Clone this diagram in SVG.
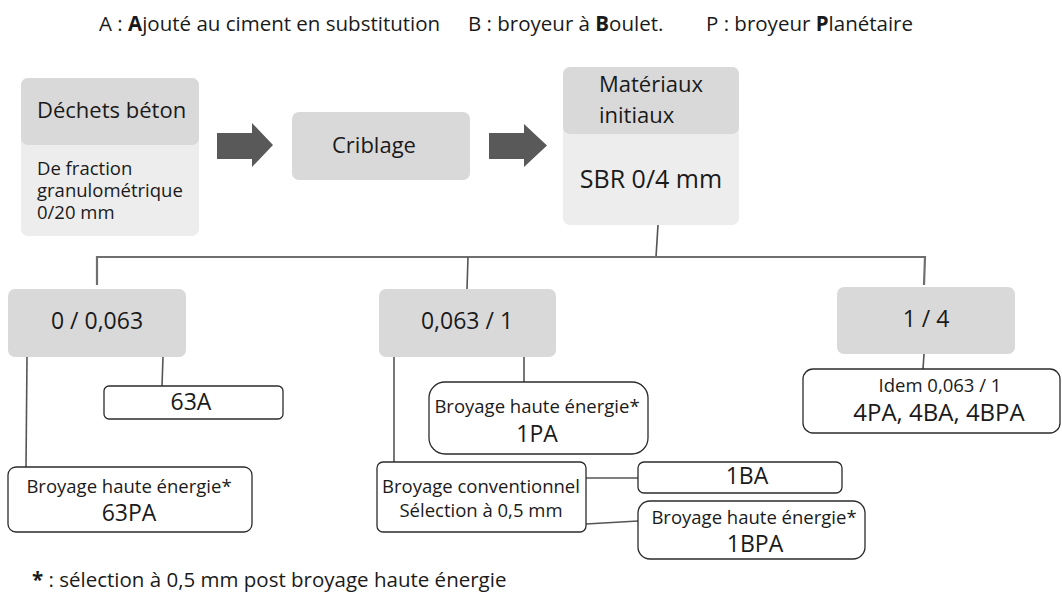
<svg xmlns="http://www.w3.org/2000/svg" width="1062" height="592" viewBox="0 0 1062 592">
<style>
text{font-family:"Open Sans","Noto Sans","Liberation Sans",sans-serif;fill:#1a1a1a}
.hd{fill:#d9d9d9}
.bd{fill:#ededed}
.wb{fill:#ffffff;stroke:#2b2b2b;stroke-width:1.3}
.big{font-size:23px}
.mid{font-size:22px}
.sm{font-size:18.5px}
.lg{font-size:20.5px}
.c{text-anchor:middle}
.ln{stroke:#555;stroke-width:1.6;fill:none}
.bus{stroke:#6f6f6f;stroke-width:2.2;fill:none}
.arr{fill:#595959}
</style>
<g id="legend">
<text class="lg" x="99" y="31">A : <tspan font-weight="bold">A</tspan>jouté au ciment en substitution</text>
<text class="lg" x="468" y="31">B : broyeur à <tspan font-weight="bold">B</tspan>oulet.</text>
<text class="lg" x="706" y="31">P : broyeur <tspan font-weight="bold">P</tspan>lanétaire</text>
</g>
<g id="connectors">
<polygon class="arr" points="217,133 252,133 252,123 273,145 252,167 252,159 217,159"/>
<polygon class="arr" points="489,133 524,133 524,124 547,145.5 524,167 524,159 489,159"/>
<line class="ln" x1="658" y1="225" x2="656" y2="257"/>
<polyline class="bus" points="97,285 97,257 925,257 924,285"/>
<line class="ln" x1="468" y1="257" x2="467" y2="289"/>
<line class="ln" x1="924" y1="354" x2="923" y2="369"/>
<line class="ln" x1="163" y1="357" x2="162" y2="386"/>
<line class="ln" x1="27" y1="357" x2="26" y2="467"/>
<line class="ln" x1="524" y1="357" x2="524" y2="382"/>
<line class="ln" x1="394" y1="357" x2="394" y2="462"/>
<line class="ln" x1="586" y1="478" x2="638" y2="478"/>
<line class="ln" x1="586" y1="524" x2="638" y2="521"/>
</g>
<g id="dechets">
<rect class="bd" x="21" y="78" width="178" height="158" rx="7"/>
<rect class="hd" x="21" y="78" width="178" height="67" rx="7"/>
<text class="mid" x="37" y="118">Déchets béton</text>
<text class="sm" x="37" y="175">De fraction</text>
<text class="sm" x="37" y="197">granulométrique</text>
<text class="sm" x="37" y="219">0/20 mm</text>
</g>
<g id="criblage">
<rect class="hd" x="292" y="112" width="178" height="68" rx="7"/>
<text class="mid" x="332" y="153">Criblage</text>
</g>
<g id="materiaux">
<rect class="bd" x="563" y="67" width="176" height="158" rx="7"/>
<rect class="hd" x="563" y="67" width="176" height="67" rx="7"/>
<text class="mid" x="599" y="92">Matériaux</text>
<text class="mid" x="599" y="123">initiaux</text>
<text x="651" y="188" class="c" style="font-size:25px">SBR 0/4 mm</text>
</g>
<g id="f1">
<rect class="hd" x="8" y="289" width="178" height="68" rx="7"/>
<text class="big c" x="97" y="329">0 / 0,063</text>
</g>
<g id="f2">
<rect class="hd" x="379" y="289" width="177" height="68" rx="7"/>
<text class="big c" x="467" y="329">0,063 / 1</text>
</g>
<g id="f3">
<rect class="hd" x="837" y="287" width="178" height="67" rx="7"/>
<text class="big c" x="926" y="327">1 / 4</text>
</g>
<g id="n63A">
<rect class="wb" x="104" y="386" width="179" height="33" rx="5"/>
<text class="big c" x="191" y="410">63A</text>
</g>
<g id="n63PA">
<rect class="wb" x="8" y="467" width="244" height="65" rx="8"/>
<text class="sm c" x="129" y="493">Broyage haute énergie*</text>
<text class="big c" x="129" y="521">63PA</text>
</g>
<g id="n1PA">
<rect class="wb" x="429" y="382" width="219" height="72" rx="16"/>
<text class="sm c" x="537" y="413">Broyage haute énergie*</text>
<text class="big c" x="537" y="442">1PA</text>
</g>
<g id="conv">
<rect class="wb" x="377" y="462" width="209" height="70" rx="6"/>
<text class="sm c" x="481" y="493">Broyage conventionnel</text>
<text class="sm c" x="481" y="517">Sélection à 0,5 mm</text>
</g>
<g id="n1BA">
<rect class="wb" x="638" y="462" width="204" height="31" rx="6"/>
<text class="big c" x="747" y="484">1BA</text>
</g>
<g id="n1BPA">
<rect class="wb" x="638" y="501" width="227" height="58" rx="12"/>
<text class="sm c" x="754" y="524">Broyage haute énergie*</text>
<text class="big c" x="755" y="552">1BPA</text>
</g>
<g id="n4">
<rect class="wb" x="803" y="369" width="257" height="64" rx="10"/>
<text class="sm c" x="940" y="392">Idem 0,063 / 1</text>
<text class="c" x="939" y="421" style="font-size:24px">4PA, 4BA, 4BPA</text>
</g>
<g id="footnote">
<text class="lg" x="32" y="587"><tspan font-weight="bold">*</tspan> : sélection à 0,5 mm post broyage haute énergie</text>
</g>
</svg>
